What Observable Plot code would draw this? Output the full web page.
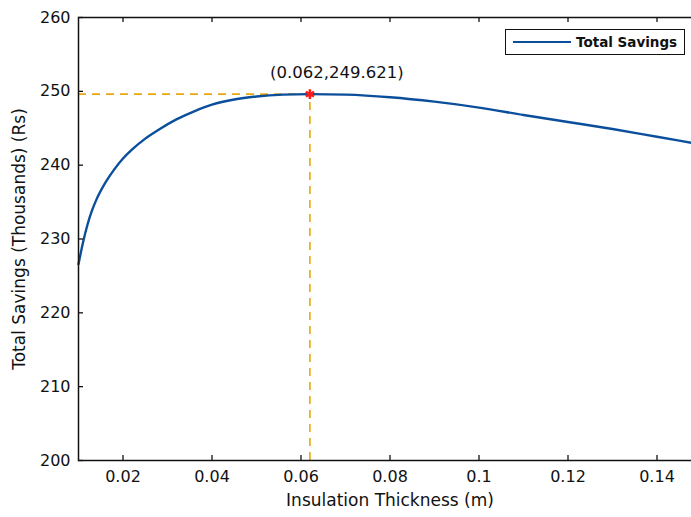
<!DOCTYPE html>
<html>
<head>
<meta charset="utf-8">
<script src="https://cdn.jsdelivr.net/npm/d3@7"></script>
<script src="https://cdn.jsdelivr.net/npm/@observablehq/plot@0.6"></script>
<style>
  html, body { margin: 0; padding: 0; background: #fff; overflow: hidden; }
  #wrap { position: relative; width: 691px; height: 517px; overflow: hidden; }
  #wrap svg { max-width: none !important; display: block; }
  #legend { position: absolute; left: 505px; top: 29px; width: 180px; height: 26px;
    border: 1.4px solid #111; background: #fff; box-sizing: border-box;
    font-family: "DejaVu Sans", sans-serif; font-size: 13.5px; font-weight: bold; color: #111; }
  #legend .sw { position: absolute; left: 7px; top: 11px; width: 58px; height: 0; border-top: 2.4px solid #0b4f9c; }
  #legend .tx { position: absolute; left: 70px; top: 4px; }
</style>
</head>
<body>
<div id="wrap"><div id="legend"><div class="sw"></div><div class="tx">Total Savings</div></div></div>
<script>
const thickness = [0.010, 0.011, 0.012, 0.013, 0.014, 0.016, 0.018, 0.020, 0.022, 0.025, 0.028, 0.032, 0.036, 0.040, 0.045, 0.050, 0.056, 0.062, 0.070, 0.080, 0.090, 0.100, 0.110, 0.120, 0.130, 0.140, 0.150];
const savings   = [226.6, 229.5, 231.9, 233.8, 235.3, 237.6, 239.4, 240.9, 242.1, 243.6, 244.8, 246.2, 247.3, 248.2, 248.9, 249.3, 249.55, 249.621, 249.55, 249.2, 248.6, 247.8, 246.8, 245.85, 244.9, 243.85, 242.8];
const optX = 0.062;
const optY = 249.621;
const xTicks = [0.02, 0.04, 0.06, 0.08, 0.1, 0.12, 0.14];
const yTicks = [200, 210, 220, 230, 240, 250, 260];
const annotation = "(0.062,249.621)";

const data = thickness.map((t, i) => ({t, s: savings[i]}));
const font = "'DejaVu Sans', sans-serif";
const xDom = [0.01, 0.15], yDom = [200, 260];
const tx = 5 / 4450, ty = 5 / 7.383; // tick lengths (≈5px) in data units

const chart = Plot.plot({
  width: 701,
  height: 517,
  marginLeft: 78,
  marginRight: 0,
  marginTop: 17,
  marginBottom: 57,
  style: {fontFamily: font, fontSize: "16px", color: "#111", background: "#fff"},
  x: {domain: xDom},
  y: {domain: yDom},
  marks: [
    Plot.ruleY([optY], {x1: xDom[0], x2: optX, stroke: "#e8a90c", strokeWidth: 1.6, strokeDasharray: "8,6"}),
    Plot.ruleX([optX], {y1: yDom[0], y2: optY, stroke: "#e8a90c", strokeWidth: 1.6, strokeDasharray: "8,6"}),
    Plot.line(data, {x: "t", y: "s", stroke: "#0b4f9c", strokeWidth: 2.4, curve: "monotone-x"}),
    Plot.dot([{t: optX, s: optY}], {x: "t", y: "s", symbol: "asterisk", r: 4.5, stroke: "#ff1a1a", strokeWidth: 2.5}),
    Plot.dot([{t: optX, s: optY}], {x: "t", y: "s", r: 2.5, fill: "#ff1a1a"}),
    Plot.text([annotation], {x: optX, y: optY, text: d => d, dx: 27, dy: -21, fontSize: 16.5, fill: "#111"}),
    // inward tick marks (bottom, top, left)
    Plot.ruleX(xTicks, {x: d => d, y1: yDom[0], y2: yDom[0] + ty, stroke: "#111", strokeWidth: 1.3}),
    Plot.ruleX(xTicks, {x: d => d, y1: yDom[1] - ty, y2: yDom[1], stroke: "#111", strokeWidth: 1.3}),
    Plot.ruleY(yTicks, {y: d => d, x1: xDom[0], x2: xDom[0] + tx, stroke: "#111", strokeWidth: 1.3}),
    Plot.axisX(xTicks, {anchor: "bottom", tickSize: 0, tickPadding: 10, tickFormat: d => String(d), fontSize: 16, label: "Insulation Thickness (m)", labelAnchor: "center", labelArrow: "none", labelOffset: 45}),
    Plot.axisY(yTicks, {anchor: "left", tickSize: 0, tickPadding: 8, fontSize: 16, label: "Total Savings (Thousands) (Rs)", labelAnchor: "center", labelArrow: "none", labelOffset: 66}),
    Plot.frame({stroke: "#111", strokeWidth: 1.5})
  ]
});
chart.querySelectorAll("g[aria-label='x-axis label'] text, g[aria-label='y-axis label'] text").forEach(t => t.setAttribute("font-size", "17"));
document.getElementById("wrap").prepend(chart);
</script>
</body>
</html>
